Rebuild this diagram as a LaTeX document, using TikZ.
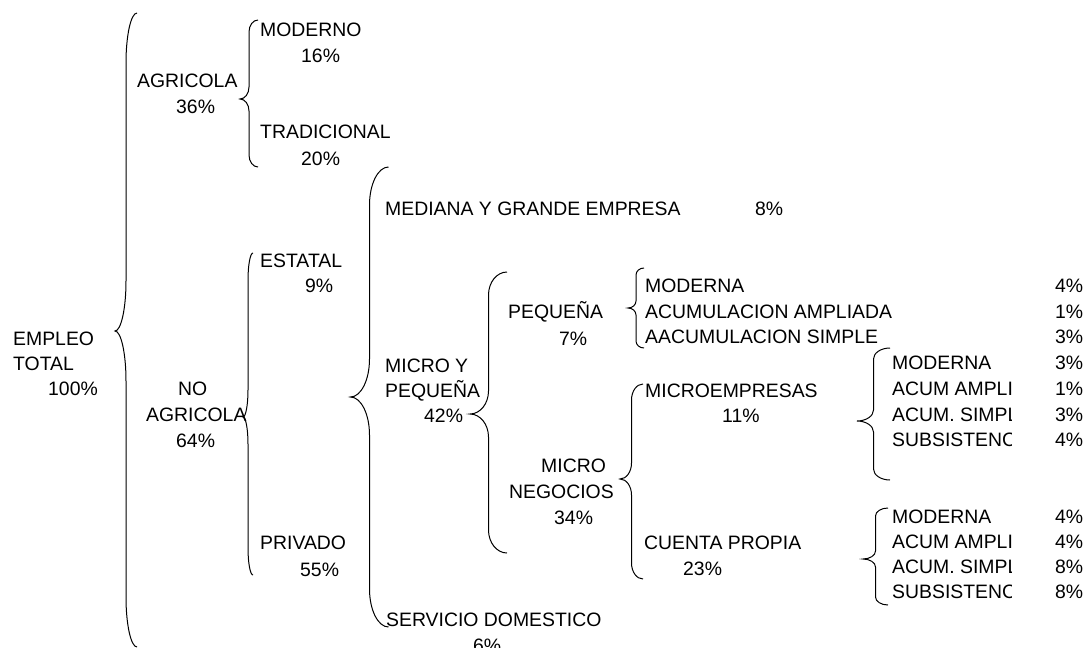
\documentclass[tikz,border=0pt]{standalone}
\usepackage{fontspec}
\setmainfont{Liberation Sans}
\newcommand\drawbrace[6]{% x rx ytop ytip ybot ry
  \draw[bracestyle] ({#1+#2},#3) .. controls ({#1+0.448*#2},#3) and (#1,{#3+0.448*#6}) .. (#1,{#3+#6})
   -- (#1,{#4-#6}) .. controls (#1,{#4-0.448*#6}) and ({#1-0.448*#2},#4) .. ({#1-#2},#4)
   .. controls ({#1-0.448*#2},#4) and (#1,{#4+0.448*#6}) .. (#1,{#4+#6})
   -- (#1,{#5-#6}) .. controls (#1,{#5-0.448*#6}) and ({#1+0.448*#2},#5) .. ({#1+#2},#5);}
\newcommand\lbl[4]{\node[lbl] (#1) at (#2,#3) {#4};}
\begin{document}
\begin{tikzpicture}[x=1pt,y=-1pt,
  lbl/.style={anchor=base west, inner sep=0pt, font=\fontsize{19.4}{25}\selectfont, text=black},
  bracestyle/.style={line width=1pt, black}]
\fill[white] (0,0) rectangle (1085,648);
\useasboundingbox (0,0) rectangle (1085,648);
% braces
\drawbrace{126}{11}{13}{331}{647}{50}
\drawbrace{249}{9}{20}{99}{167}{12}
\drawbrace{248}{5}{253}{417}{575}{27}
\drawbrace{369.5}{19}{167}{397}{627}{38}
\drawbrace{488.5}{18.5}{272}{414}{553}{23}
\drawbrace{636}{8}{268}{308}{348}{7}
\drawbrace{631.5}{11.5}{384}{479}{579}{16}
\drawbrace{873.5}{16.5}{348}{421}{480}{11}
\drawbrace{875.5}{12.5}{508}{559}{605}{8}
% level 1
\lbl{e1}{13}{345}{EMPLEO}
\lbl{e2}{13}{370}{TOTAL}
\lbl{e3}{48}{395}{100\%}
% level 2
\lbl{ag1}{137}{87}{AGRICOLA}
\lbl{ag2}{176}{113}{36\%}
\lbl{na1}{178}{395}{NO}
\lbl{na2}{146}{421}{AGRICOLA}
\lbl{na3}{176}{447}{64\%}
% level 3
\lbl{mo1}{260}{36}{MODERNO}
\lbl{mo2}{301}{62}{16\%}
\lbl{tr1}{260}{138}{TRADICIONAL}
\lbl{tr2}{301}{165}{20\%}
\lbl{es1}{260}{267}{ESTATAL}
\lbl{es2}{305}{292}{9\%}
\lbl{pr1}{260}{549}{PRIVADO}
\lbl{pr2}{300}{576}{55\%}
% level 4
\lbl{mg1}{385}{215}{MEDIANA Y GRANDE EMPRESA}
\lbl{mg2}{755}{215}{8\%}
\lbl{mp1}{385}{372}{MICRO Y}
\lbl{mp2}{385}{397}{PEQUEÑA}
\lbl{mp3}{424}{422}{42\%}
\lbl{sd1}{386}{626}{SERVICIO DOMESTICO}
\lbl{sd2}{473}{652}{6\%}
% level 5
\lbl{pq1}{508}{318}{PEQUEÑA}
\lbl{pq2}{559}{345}{7\%}
\lbl{mn1}{541}{472}{MICRO}
\lbl{mn2}{509}{498}{NEGOCIOS}
\lbl{mn3}{554}{524}{34\%}
% level 6
\lbl{pm1}{645}{292}{MODERNA}
\lbl{pm2}{645}{318}{ACUMULACION AMPLIADA}
\lbl{pm3}{645}{343}{AACUMULACION SIMPLE}
\lbl{pp1}{1055}{292}{4\%}
\lbl{pp2}{1055}{318}{1\%}
\lbl{pp3}{1055}{343}{3\%}
\lbl{me1}{645}{397}{MICROEMPRESAS}
\lbl{me2}{722}{422}{11\%}
\lbl{cp1}{644}{549}{CUENTA PROPIA}
\lbl{cp2}{683}{575}{23\%}
% level 7
\begin{scope}
\clip (880,330) rectangle (1011,610);
\lbl{mm1}{892}{369}{MODERNA}
\lbl{mm2}{892}{395}{ACUM AMPLI}
\lbl{mm3}{892}{421}{ACUM. SIMPL}
\lbl{mm4}{892}{446}{SUBSISTENC}
\lbl{cm1}{892}{523}{MODERNA}
\lbl{cm2}{892}{548}{ACUM AMPLI}
\lbl{cm3}{892}{573}{ACUM. SIMPL}
\lbl{cm4}{892}{598}{SUBSISTENC}
\end{scope}
\lbl{mq1}{1055}{369}{3\%}
\lbl{mq2}{1055}{395}{1\%}
\lbl{mq3}{1055}{421}{3\%}
\lbl{mq4}{1055}{446}{4\%}
\lbl{cq1}{1055}{523}{4\%}
\lbl{cq2}{1055}{548}{4\%}
\lbl{cq3}{1055}{573}{8\%}
\lbl{cq4}{1055}{598}{8\%}
\end{tikzpicture}
\end{document}
